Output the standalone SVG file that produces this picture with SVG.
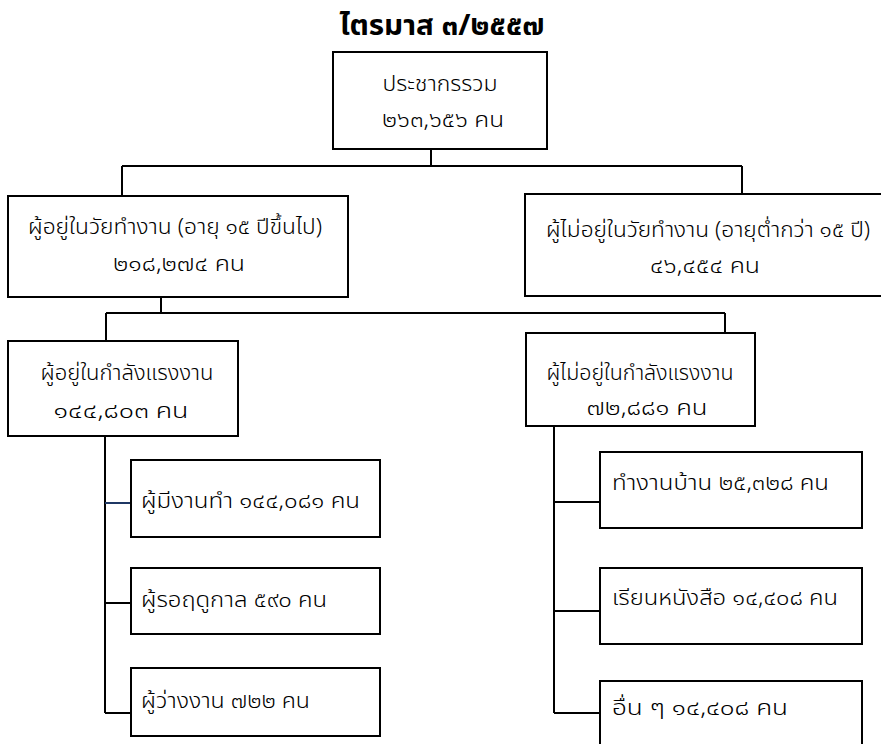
<svg xmlns="http://www.w3.org/2000/svg" width="881" height="744" viewBox="0 0 881 744">
<style>
.box{fill:#fff;stroke:#000;stroke-width:2}
.ln{fill:none;stroke:#000;stroke-width:2}
text{font-family:"Noto Sans Thai","Loma","Garuda","Norasi","Tlwg Typo","DejaVu Sans","Liberation Sans",sans-serif;font-size:21px;font-weight:300;fill:#000}
.c{text-anchor:middle}
.t{font-size:28px;font-weight:bold}
</style>
<rect width="881" height="744" fill="#fff"/>
<text class="t c" x="442" y="35" textLength="205" lengthAdjust="spacingAndGlyphs">ไตรมาส ๓/๒๕๕๗</text>
<g id="connectors">
<path class="ln" d="M431 149V166M122 166H742M122 166V196M742 166V194"/>
<path class="ln" d="M161 297V313M106 313H725M106 313V341M725 313V333"/>
<path class="ln" d="M105 427V713M105 603H131M105 713H131"/>
<path d="M105 503H131" fill="none" stroke="#1f3864" stroke-width="2"/>
<path class="ln" d="M554 418V713M554 502H600M554 611H600M554 713H600"/>
</g>
<g id="n-total"><rect class="box" x="333" y="52" width="214" height="97"/><text class="c" x="440" y="91" textLength="115" lengthAdjust="spacingAndGlyphs">ประชากรรวม</text><text class="c" x="443" y="127" textLength="122" lengthAdjust="spacingAndGlyphs">๒๖๓,๖๕๖ คน</text></g>
<g id="n-working-age"><rect class="box" x="8" y="196" width="340" height="101"/><text class="c" x="175" y="234" textLength="294" lengthAdjust="spacingAndGlyphs">ผู้อยู่ในวัยทำงาน (อายุ ๑๕ ปีขึ้นไป)</text><text class="c" x="179" y="271" textLength="132" lengthAdjust="spacingAndGlyphs">๒๑๘,๒๗๔ คน</text></g>
<g id="n-non-working-age"><rect class="box" x="525" y="194" width="370" height="102"/><text class="c" x="708" y="237" textLength="324" lengthAdjust="spacingAndGlyphs">ผู้ไม่อยู่ในวัยทำงาน (อายุต่ำกว่า ๑๕ ปี)</text><text class="c" x="705" y="273" textLength="110" lengthAdjust="spacingAndGlyphs">๔๖,๔๕๔ คน</text></g>
<g id="n-labour-force"><rect class="box" x="8" y="341" width="230" height="95"/><text class="c" x="127" y="380" textLength="173" lengthAdjust="spacingAndGlyphs">ผู้อยู่ในกำลังแรงงาน</text><text class="c" x="121" y="418" textLength="135" lengthAdjust="spacingAndGlyphs">๑๔๔,๘๐๓ คน</text></g>
<g id="n-not-labour-force"><rect class="box" x="526" y="333" width="229" height="93"/><text class="c" x="640" y="380" textLength="187" lengthAdjust="spacingAndGlyphs">ผู้ไม่อยู่ในกำลังแรงงาน</text><text class="c" x="647" y="415" textLength="121" lengthAdjust="spacingAndGlyphs">๗๒,๘๘๑ คน</text></g>
<g id="n-employed"><rect class="box" x="131" y="460" width="249" height="77"/><text x="141" y="508" textLength="219" lengthAdjust="spacingAndGlyphs">ผู้มีงานทำ ๑๔๔,๐๘๑ คน</text></g>
<g id="n-seasonal"><rect class="box" x="131" y="568" width="249" height="66"/><text x="141" y="607" textLength="186" lengthAdjust="spacingAndGlyphs">ผู้รอฤดูกาล ๕๙๐ คน</text></g>
<g id="n-unemployed"><rect class="box" x="131" y="668" width="249" height="68"/><text x="141" y="708" textLength="169" lengthAdjust="spacingAndGlyphs">ผู้ว่างงาน ๗๒๒ คน</text></g>
<g id="n-housework"><rect class="box" x="600" y="452" width="262" height="76"/><text x="612" y="490" textLength="217" lengthAdjust="spacingAndGlyphs">ทำงานบ้าน ๒๕,๓๒๘ คน</text></g>
<g id="n-study"><rect class="box" x="600" y="568" width="262" height="76"/><text x="612" y="605" textLength="226" lengthAdjust="spacingAndGlyphs">เรียนหนังสือ ๑๔,๔๐๘ คน</text></g>
<g id="n-other"><rect class="box" x="600" y="681" width="262" height="80"/><text x="612" y="715" textLength="176" lengthAdjust="spacingAndGlyphs">อื่น ๆ ๑๔,๔๐๘ คน</text></g>
</svg>
